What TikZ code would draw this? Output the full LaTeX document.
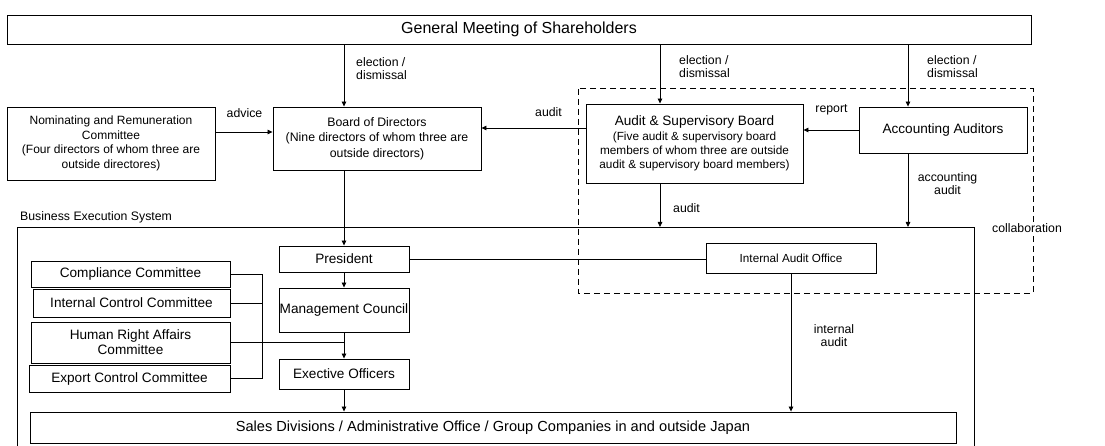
\documentclass[tikz,border=0pt]{standalone}
\usepackage{fontspec}
\setmainfont{Liberation Sans}
\usetikzlibrary{arrows.meta}
\begin{document}
\begin{tikzpicture}[x=1pt,y=-1pt,
  box/.style={draw, line width=0.9pt, inner sep=0pt, align=center},
  lbl/.style={inner sep=0pt, font=\fontsize{12.3}{13}\selectfont},
  conn/.style={line width=0.8pt},
  arr/.style={conn, -{Triangle[length=5pt,width=4.5pt]}},
  tfont/.style={font=\fontsize{13.6}{15}\selectfont},
  pfont/.style={font=\fontsize{12}{14.6}\selectfont},
]
\useasboundingbox (0,0) rectangle (1105,446);
\fill[white] (0,0) rectangle (1105,446);

% helper coordinates
\coordinate (cA) at (660,0);
\coordinate (cB) at (908,0);
\coordinate (yAdv) at (0,132);
\coordinate (yAud) at (0,128);
\coordinate (brk) at (262,0);
\coordinate (besNW) at (17,227);
\coordinate (besNE) at (974,227);
\coordinate (besSW) at (17,446);
\coordinate (besSE) at (974,446);

% collaboration region
\draw[line width=1pt, dash pattern=on 6pt off 4pt] (578,89) rectangle (1033,293);
\node[lbl, fill=white, inner sep=1pt] (collab) at (1027,228) {collaboration};

% business execution system frame
\draw[line width=0.9pt] (besSW) -- (besNW) -- (besNE) -- (besSE);
\node[lbl, anchor=west] (bestitle) at (20,217) {Business Execution System};

% boxes
\node[box, minimum width=1024pt, minimum height=29pt, font=\fontsize{16}{18}\selectfont] (gms) at (519,29.5) {General Meeting of Shareholders};
\node[box, minimum width=208pt, minimum height=73pt, pfont] (nom) at (111,143.5)
  {Nominating and Remuneration\\Committee\\(Four directors of whom three are\\outside directores)};
\node[box, minimum width=208pt, minimum height=63pt, font=\fontsize{12.3}{15.5}\selectfont] (board) at (377,138.5)
  {Board of Directors\\(Nine directors of whom three are\\outside directors)};
\node[box, minimum width=217pt, minimum height=79pt, font=\fontsize{11.8}{14}\selectfont] (asb) at (694.5,143.5)
  {{\fontsize{13.6}{15}\selectfont Audit \& Supervisory Board}\\[1pt](Five audit \& supervisory board\\members of whom three are outside\\audit \& supervisory board members)};
\node[box, minimum width=168pt, minimum height=46pt, tfont] (aa) at (943,130) {Accounting Auditors};

\node[box, minimum width=130pt, minimum height=26pt, tfont] (pres) at (344,259) {President};
\node[box, minimum width=130pt, minimum height=44pt, tfont] (mc) at (344,310) {Management Council};
\node[box, minimum width=130pt, minimum height=30pt, tfont] (exec) at (344,374) {Exective Officers};
\node[box, minimum width=170pt, minimum height=30pt, font=\fontsize{11.7}{14}\selectfont] (iao) at (791,258) {Internal Audit Office};
\node[box, minimum width=926pt, minimum height=31pt, font=\fontsize{14.6}{16}\selectfont] (sales) at (493,427.5)
  {Sales Divisions / Administrative Office / Group Companies in and outside Japan};

\node[box, minimum width=199pt, minimum height=26pt, tfont] (comp) at (130.5,274) {Compliance Committee};
\node[box, minimum width=197pt, minimum height=28pt, tfont] (ic) at (131.5,303) {Internal Control Committee};
\node[box, minimum width=199pt, minimum height=41pt, tfont] (hr) at (130.5,342.5) {Human Right Affairs\\Committee};
\node[box, minimum width=201pt, minimum height=27pt, tfont] (exp) at (129.5,378.5) {Export Control Committee};

% connectors
\draw[arr] (gms.south -| pres.north) -- (board.north -| pres.north);
\draw[arr] (gms.south -| cA) -- (asb.north -| cA);
\draw[arr] (gms.south -| cB) -- (aa.north -| cB);
\draw[arr] (nom.east |- yAdv) -- (board.west |- yAdv);
\draw[arr] (asb.west |- yAud) -- (board.east |- yAud);
\draw[arr] (aa.west) -- (asb.east |- aa.west);
\draw[arr] (asb.south -| cA) -- (besNW -| cA);
\draw[arr] (aa.south -| cB) -- (besNW -| cB);
\draw[arr] (board.south -| pres.north) -- (pres.north);
\draw[arr] (pres.south) -- (mc.north);
\draw[arr] (mc.south) -- (exec.north);
\draw[arr] (exec.south) -- (sales.north -| exec.south);
\draw[conn] (pres.east) -- (iao.west |- pres.east);
\draw[arr] (iao.south) -- (sales.north -| iao.south);
\draw[conn] (comp.east) -- (comp.east -| brk) -- (exp.east -| brk) -- (exp.east);
\draw[conn] (ic.east) -- (ic.east -| brk);
\draw[conn] (hr.east) -- (hr.east -| mc.south);

% labels
\node[lbl, anchor=west, align=left] (l1) at (356,68.5) {election /\\dismissal};
\node[lbl, anchor=west, align=left] (l2) at (679,67) {election /\\dismissal};
\node[lbl, anchor=west, align=left] (l3) at (927,67) {election /\\dismissal};
\node[lbl] (ladv) at (244.5,113) {advice};
\node[lbl] (laud1) at (548.5,112) {audit};
\node[lbl] (lrep) at (831.5,110) {report};
\node[lbl] (laud2) at (686.5,208) {audit};
\node[lbl, align=center] (lacc) at (947.5,183.5) {accounting\\audit};
\node[lbl, align=center] (lint) at (834,335.5) {internal\\audit};
\end{tikzpicture}
\end{document}
